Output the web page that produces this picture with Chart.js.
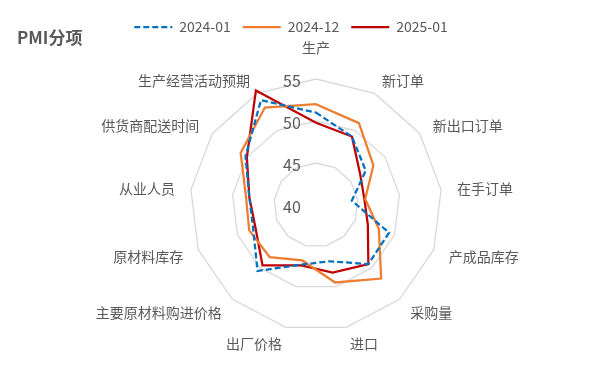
<!DOCTYPE html>
<html>
<head>
<meta charset="utf-8">
<script src="https://cdn.jsdelivr.net/npm/chart.js@4.4.1/dist/chart.umd.min.js"></script>
<style>
  html, body { margin: 0; padding: 0; background: #fff; }
  #wrap { position: relative; width: 596px; height: 378px; }
  #titulo { position: absolute; left: 17px; top: 24px; font: bold 17px "Noto Sans CJK SC", sans-serif; color: #595959; }
</style>
</head>
<body>
<div id="wrap">
  <canvas id="grafico" width="596" height="378"></canvas>
  <div id="titulo">PMI分项</div>
</div>
<script>
// categorias do radar (sentido horário a partir do topo)
const categorias = ["生产", "新订单", "新出口订单", "在手订单", "产成品库存", "采购量", "进口",
  "出厂价格", "主要原材料购进价格", "原材料库存", "从业人员", "供货商配送时间", "生产经营活动预期"];

const serie2024_01 = [51.0, 49.2, 47.2, 44.3, 49.3, 49.4, 46.9, 47.3, 50.5, 48.0, 48.0, 50.2, 54.1];
const serie2024_12 = [52.0, 51.0, 48.3, 45.9, 48.0, 51.7, 49.5, 46.8, 48.3, 48.5, 48.4, 50.9, 53.1];
const serie2025_01 = [49.8, 49.2, 46.4, 45.8, 46.6, 49.4, 48.3, 47.4, 49.6, 47.7, 48.0, 50.0, 55.4];

const valoresEixo = [40, 45, 50, 55];

const corTexto = "#595959";
const fonte = '"Noto Sans CJK SC", "Noto Sans", sans-serif';

// desenha os rótulos das categorias e os valores do eixo
const rotulosPlugin = {
  id: "rotulos",
  afterDraw(chart) {
    const ctx = chart.ctx;
    const r = chart.scales.r;
    ctx.save();
    ctx.fillStyle = corTexto;

    ctx.font = "14px " + fonte;
    categorias.forEach((txt, i) => {
      const p = r.getPointPosition(i, r.drawingArea + 16);
      const ang = r.getIndexAngle(i);
      const s = Math.sin(ang);
      let y = p.y + 1;
      ctx.textBaseline = "middle";
      if (Math.abs(s) < 0.05) {
        ctx.textAlign = "center";
        y = Math.cos(ang) > 0 ? p.y - 15 : p.y + 15;
      } else {
        ctx.textAlign = s > 0 ? "left" : "right";
      }
      ctx.fillText(txt, p.x, y);
    });

    ctx.font = "16px " + fonte;
    ctx.textAlign = "center";
    ctx.textBaseline = "middle";
    valoresEixo.forEach(v => {
      const d = r.getDistanceFromCenterForValue(v);
      ctx.fillText(String(v), r.xCenter - 24, r.yCenter - d + 1.5);
    });
    ctx.restore();
  }
};

const ctx = document.getElementById("grafico").getContext("2d");
new Chart(ctx, {
  type: "radar",
  data: {
    labels: categorias,
    datasets: [
      {
        label: "2024-01",
        data: serie2024_01,
        borderColor: "#0070C0",
        backgroundColor: "#0070C0",
        borderWidth: 2.25,
        borderDash: [6, 3],
        fill: false,
        pointRadius: 0
      },
      {
        label: "2024-12",
        data: serie2024_12,
        borderColor: "#ED7D31",
        backgroundColor: "#ED7D31",
        borderWidth: 2.25,
        fill: false,
        pointRadius: 0
      },
      {
        label: "2025-01",
        data: serie2025_01,
        borderColor: "#C00000",
        backgroundColor: "#C00000",
        borderWidth: 2.25,
        fill: false,
        pointRadius: 0
      }
    ]
  },
  options: {
    responsive: false,
    animation: false,
    layout: { padding: { top: 8, right: 14 } },
    plugins: {
      legend: {
        display: true,
        position: "top",
        labels: {
          usePointStyle: true,
          pointStyle: "line",
          pointStyleWidth: 38,
          padding: 12,
          color: corTexto,
          font: { family: fonte, size: 14 },
          // traço da legenda com a mesma espessura e tracejado da série
          generateLabels(chart) {
            const itens = Chart.defaults.plugins.legend.labels.generateLabels(chart);
            itens.forEach(item => {
              const ds = chart.data.datasets[item.datasetIndex];
              item.lineWidth = ds.borderWidth;
              item.lineDash = ds.borderDash || [];
              item.strokeStyle = ds.borderColor;
            });
            return itens;
          }
        }
      },
      tooltip: { enabled: false }
    },
    scales: {
      r: {
        min: 40,
        max: 55,
        ticks: { stepSize: 5, display: false },
        grid: { color: "#d9d9d9", lineWidth: 1.3, circular: false },
        angleLines: { display: false },
        pointLabels: { display: false },
        afterFit(scale) {
          // posição do radar igual à da imagem original
          scale.xCenter = 316;
          scale.yCenter = 205;
          scale.drawingArea = 126;
        }
      }
    }
  },
  plugins: [rotulosPlugin]
});
</script>
</body>
</html>
